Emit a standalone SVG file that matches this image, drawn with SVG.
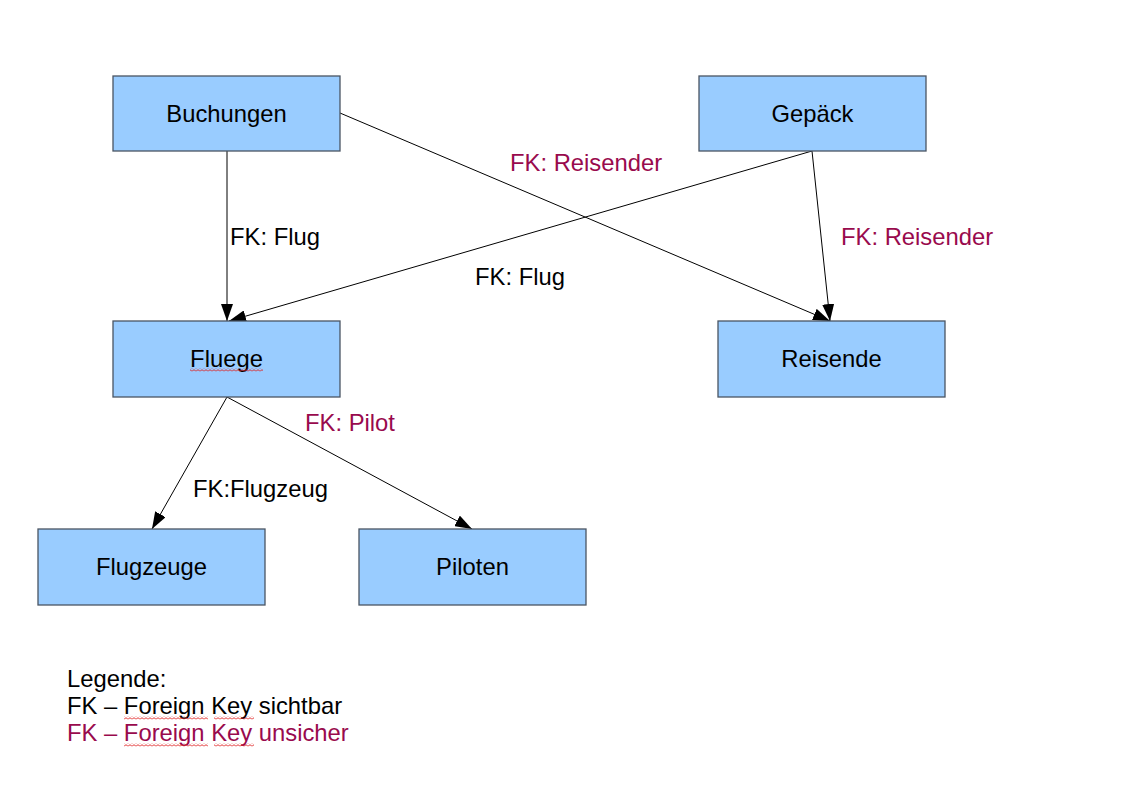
<svg xmlns="http://www.w3.org/2000/svg" width="1123" height="794" viewBox="0 0 1123 794">
<style>
.box{fill:#99ccff;stroke:#4a5563;stroke-width:1.3}
.lbl{font-family:"Liberation Sans",Arial,sans-serif;font-size:23.8px;fill:#000}
.c{text-anchor:middle}
.red{fill:#990a4d}
.con{stroke:#000;stroke-width:1;fill:none;marker-end:url(#arr)}
</style>
<defs>
<marker id="arr" markerUnits="userSpaceOnUse" markerWidth="17" markerHeight="12" refX="17" refY="6" orient="auto">
<path d="M0,0 L17,6 L0,12 z" fill="#000"/>
</marker>
<pattern id="wave" width="4" height="3" patternUnits="userSpaceOnUse">
<path d="M0,2.3 L2,0.7 L4,2.3" stroke="#e02020" stroke-width="0.9" fill="none"/>
</pattern>
</defs>
<rect width="1123" height="794" fill="#fff"/>
<g id="connectors">
<line class="con" x1="227" y1="151" x2="227" y2="321"/>
<line class="con" x1="340" y1="113" x2="830" y2="321"/>
<line class="con" x1="812" y1="151" x2="229" y2="321"/>
<line class="con" x1="812" y1="151" x2="830" y2="321"/>
<line class="con" x1="227" y1="397" x2="152" y2="529"/>
<line class="con" x1="227" y1="397" x2="472" y2="529"/>
</g>
<g id="labels">
<text class="lbl" x="230" y="245">FK: Flug</text>
<text class="lbl red" x="510" y="171">FK: Reisender</text>
<text class="lbl" x="475" y="285">FK: Flug</text>
<text class="lbl red" x="841" y="245">FK: Reisender</text>
<text class="lbl red" x="305" y="431">FK: Pilot</text>
<text class="lbl" x="193" y="497">FK:Flugzeug</text>
</g>
<g id="buchungen"><rect class="box" x="113" y="76" width="227" height="75"/><text class="lbl c" x="226.5" y="121.5">Buchungen</text></g>
<g id="gepaeck"><rect class="box" x="699" y="76" width="227" height="75"/><text class="lbl c" x="812.5" y="121.5">Gepäck</text></g>
<g id="fluege"><rect class="box" x="113" y="321" width="227" height="76"/><text class="lbl c" x="226.5" y="367">Fluege</text><rect x="190" y="368.5" width="73" height="3" fill="url(#wave)"/></g>
<g id="reisende"><rect class="box" x="718" y="321" width="227" height="76"/><text class="lbl c" x="831.5" y="367">Reisende</text></g>
<g id="flugzeuge"><rect class="box" x="38" y="529" width="227" height="76"/><text class="lbl c" x="151.5" y="575">Flugzeuge</text></g>
<g id="piloten"><rect class="box" x="359" y="529" width="227" height="76"/><text class="lbl c" x="472.5" y="575">Piloten</text></g>
<g id="legend">
<text class="lbl" x="67" y="687">Legende:</text>
<text class="lbl" x="67" y="714">FK – Foreign Key sichtbar</text>
<text class="lbl red" x="67" y="741">FK – Foreign Key unsicher</text>
<rect x="124" y="716.5" width="84" height="3" fill="url(#wave)"/>
<rect x="214" y="716.5" width="40" height="3" fill="url(#wave)"/>
<rect x="124" y="743.5" width="84" height="3" fill="url(#wave)"/>
<rect x="214" y="743.5" width="40" height="3" fill="url(#wave)"/>
</g>
</svg>
